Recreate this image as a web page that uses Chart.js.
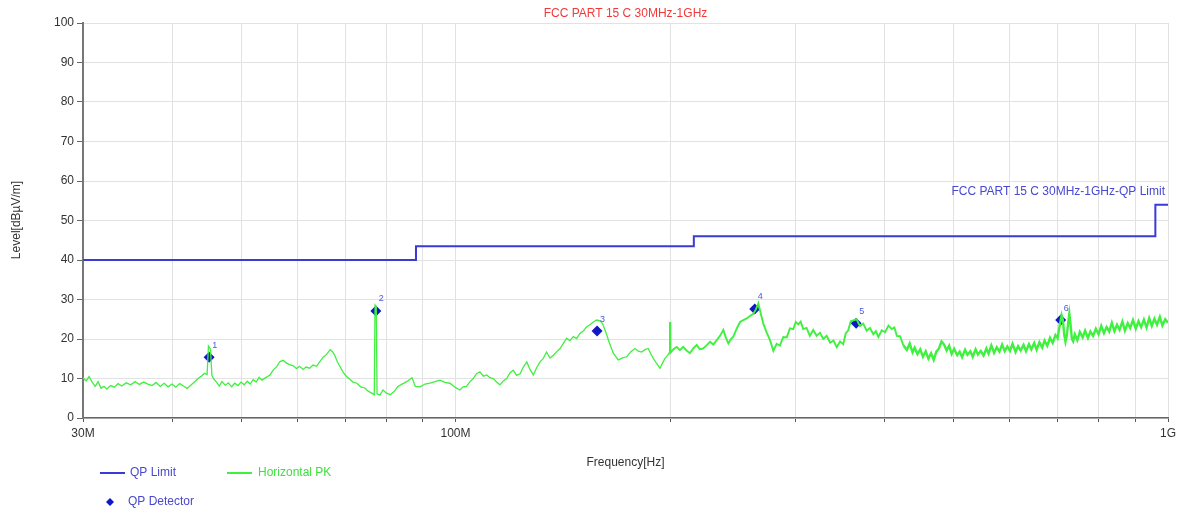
<!DOCTYPE html>
<html>
<head>
<meta charset="utf-8">
<script src="https://cdn.jsdelivr.net/npm/chart.js@4.4.1/dist/chart.umd.min.js"></script>
<style>
  body { margin: 0; background: #fff; }
  #wrap { width: 1182px; height: 511px; }
</style>
</head>
<body>
<div id="wrap"><canvas id="emi" width="1182" height="511"></canvas></div>
<script>
// --- limit line (MHz / dBuV/m) ---
const limitFreq = [30, 88, 88, 216, 216, 960, 960, 1000];
const limitLevel = [40, 40, 43.5, 43.5, 46, 46, 54, 54];

// --- QP detector readings ---
const qpFreq = [45.1, 77.3, 158.0, 263.0, 365.0, 707.0];
const qpLevel = [15.4, 27.1, 22.0, 27.6, 24.0, 24.8];
const qpNames = ['1', '2', '3', '4', '5', '6'];

// --- horizontal peak sweep ---
const pkFreq = [
  30.0, 30.3, 30.6, 30.9, 31.2, 31.5, 31.8, 32.1, 32.4, 32.8, 33.2, 33.6, 34.0, 34.5, 35.0, 35.5,
  36.0, 36.5, 37.0, 37.5, 38.0, 38.5, 39.0, 39.5, 40.0, 40.5, 41.0, 41.5, 42.0, 42.5, 43.0, 43.5,
  44.0, 44.4, 44.8, 45.0, 45.3, 45.5, 45.8, 46.2, 46.6, 47.0, 47.5, 48.0, 48.5, 49.0, 49.5, 50.0,
  50.5, 51.0, 51.5, 52.0, 52.5, 53.0, 53.5, 54.0, 54.9, 55.5, 56.1, 56.7, 57.3, 57.9, 58.5, 59.2,
  59.8, 60.4, 61.1, 61.7, 62.4, 63.1, 63.8, 64.5, 65.2, 65.9, 66.7, 67.2, 67.7, 68.3, 68.9, 69.6,
  70.3, 71.0, 71.8, 72.7, 73.6, 74.6, 75.4, 76.3, 76.9, 77.1, 77.4, 77.6, 78.3, 79.1, 80.0, 81.0,
  82.0, 83.0, 84.0, 85.4, 86.9, 87.8, 89.2, 90.6, 92.1, 93.6, 95.1, 96.6, 98.2, 99.8, 101.4, 102.5,
  103.6, 104.8, 105.9, 107.0, 108.2, 109.4, 110.6, 111.8, 113.0, 114.2, 115.4, 116.7, 118.0, 119.2, 120.5, 121.8,
  123.2, 124.5, 125.9, 127.2, 128.6, 130.0, 131.4, 132.8, 134.2, 135.7, 137.2, 138.7, 140.2, 141.7, 143.2, 144.7,
  146.3, 147.9, 149.5, 151.1, 152.8, 154.4, 156.1, 157.8, 159.5, 160.8, 162.1, 164.3, 166.5, 169.2, 171.5, 173.9,
  176.2, 178.6, 180.5, 182.5, 184.4, 186.4, 188.0, 189.5, 191.5, 193.6, 195.2, 196.8, 198.4, 199.8, 200.0, 200.2,
  202.2, 204.4, 206.5, 208.7, 211.0, 213.3, 215.6, 218.0, 220.3, 222.7, 225.1, 227.6, 230.1, 232.6, 235.1, 237.6,
  239.5, 241.5, 243.4, 245.4, 248.1, 250.8, 253.5, 256.3, 259.0, 261.8, 264.0, 266.1, 268.2, 270.4, 273.3, 276.3,
  279.3, 282.3, 285.3, 288.4, 291.6, 294.7, 297.9, 300.3, 302.7, 305.1, 307.6, 310.9, 314.3, 317.7, 321.2, 324.7,
  328.2, 331.8, 335.5, 339.2, 342.9, 346.5, 350.1, 352.9, 355.8, 358.7, 361.6, 365.5, 369.5, 373.5, 377.6, 381.7,
  385.9, 389.0, 392.2, 396.5, 400.8, 405.2, 409.6, 413.0, 416.3, 420.7, 425.2,
  430, 434, 438, 441, 445, 449, 453, 457, 461, 465,
  469, 473, 477, 481, 485, 489, 493, 497, 501, 506,
  510, 514, 519, 523, 528, 532, 537, 541, 546, 551,
  556, 560, 565, 570, 575, 580, 585, 590, 595, 600,
  605, 611, 616, 621, 627, 632, 638, 643, 649, 654,
  660, 666, 671, 677, 683, 689, 695, 700, 703, 706,
  709, 712, 715, 718, 721, 724, 727, 730, 733, 736,
  740, 746, 752, 759, 765, 772, 778, 785, 792, 799,
  806, 813, 820, 827, 834, 841, 848, 855, 863, 870,
  878, 885, 893, 901, 909, 917, 925, 933, 941, 949,
  957, 965, 974, 982, 991, 1000
];
const pkLevel = [
  10.2, 9.4, 10.5, 9.1, 8.0, 9.2, 7.5, 8.0, 7.3, 8.2, 7.8, 8.7, 8.1, 8.9, 8.4, 9.2,
  8.5, 9.1, 8.6, 8.2, 9.0, 8.0, 8.8, 7.9, 8.6, 7.8, 8.7, 8.1, 7.5, 8.3, 9.1, 10.0,
  10.6, 11.3, 11.0, 18.2, 17.4, 10.8, 9.8, 9.1, 8.1, 9.2, 8.3, 8.9, 7.9, 8.8, 8.2, 9.1,
  8.4, 9.3, 8.6, 9.7, 9.1, 10.3, 9.6, 10.1, 10.9, 12.2, 13.0, 14.3, 14.6, 13.9, 13.5, 13.2,
  12.5, 13.1, 12.3, 12.9, 12.6, 13.4, 13.1, 14.3, 15.4, 16.1, 17.3, 16.8, 15.8, 14.1, 12.9, 11.5,
  10.5, 9.9, 9.1, 8.8, 7.9, 7.6, 6.8, 6.3, 5.9, 28.6, 28.2, 6.1, 5.8, 7.1, 6.3, 5.9,
  6.7, 8.0, 8.5, 9.2, 10.2, 8.0, 7.9, 8.6, 8.8, 9.2, 9.6, 9.0, 8.8, 7.8, 7.1, 7.9,
  8.0, 9.2, 10.0, 11.2, 11.7, 10.6, 10.9, 10.2, 10.0, 9.1, 8.4, 9.4, 10.0, 11.4, 12.1, 10.8,
  11.2, 12.9, 14.2, 12.3, 10.9, 12.8, 14.2, 15.1, 16.7, 15.2, 15.9, 16.8, 17.6, 18.9, 20.2, 19.6,
  20.6, 20.1, 21.4, 22.0, 23.1, 23.6, 24.3, 24.8, 24.6, 23.9, 22.3, 19.2, 16.4, 14.7, 15.2, 15.5,
  16.8, 17.6, 16.9, 16.7, 17.3, 17.6, 16.2, 15.1, 13.8, 12.6, 13.9, 15.1, 15.8, 16.7, 24.3, 16.5,
  17.4, 18.0, 17.2, 18.0, 17.1, 16.4, 17.6, 18.5, 17.4, 17.6, 18.4, 19.3, 18.6, 19.7, 20.8, 22.3,
  20.4, 18.9, 19.9, 20.6, 22.6, 24.3, 24.8, 25.2, 25.8, 26.4, 27.5, 29.0, 26.4, 23.9, 21.7, 19.7,
  17.0, 18.8, 18.3, 20.5, 20.4, 22.7, 22.5, 24.3, 23.7, 24.4, 22.5, 22.8, 20.8, 22.3, 20.8, 21.6,
  20.0, 20.8, 19.1, 19.6, 17.9, 19.4, 18.7, 21.4, 22.2, 24.5, 24.7, 25.0, 23.3, 23.9, 22.1, 22.8,
  21.2, 22.0, 20.5, 22.2, 21.7, 23.4, 22.5, 22.9, 20.8, 20.7, 18.4,
  17.2, 18.9, 16.6, 17.8, 16.2, 17.4, 15.5, 16.9, 15.0, 16.4,
  14.7, 16.8, 17.6, 19.4, 18.6, 17.1, 18.3, 16.2, 17.5, 15.9,
  16.8, 15.4, 17.3, 16.0, 16.9, 15.5, 17.4, 16.1, 17.0, 15.8,
  17.6, 16.3, 18.4, 16.5, 17.9, 16.8, 18.6, 16.9, 18.1, 17.0,
  18.8, 16.7, 18.2, 17.1, 18.5, 16.9, 18.7, 17.4, 19.0, 17.3,
  19.2, 17.8, 19.6, 18.3, 20.3, 19.0, 21.0, 20.2, 22.4, 24.2,
  26.0, 24.8, 21.2, 19.3, 20.8, 23.8, 26.4, 23.5, 20.0, 19.4,
  21.2, 19.7, 21.8, 20.4, 22.1, 20.3, 21.9, 20.8, 22.6, 21.2,
  23.3, 21.5, 23.0, 21.9, 24.1, 22.0, 23.6, 22.3, 24.4, 22.1,
  24.0, 22.8, 24.8, 22.6, 24.5, 23.0, 24.9, 22.9, 25.3, 23.3,
  25.1, 23.6, 25.6, 23.4, 25.0, 24.1
];

// --- axis ticks ---
const xTicks = [30, 40, 50, 60, 70, 80, 90, 100, 200, 300, 400, 500, 600, 700, 800, 900, 1000];
const xTickLabels = { 30: '30M', 100: '100M', 1000: '1G' };

const toXY = (xs, ys) => xs.map((x, i) => ({ x: x, y: ys[i] }));

const BLUE = '#3a3ad6';
const GREEN = '#3ff03f';
const FONT = '"Liberation Sans", Arial, sans-serif';

const textPlugin = {
  id: 'texts',
  afterDraw(chart) {
    const c = chart.ctx;
    const area = chart.chartArea;
    const mid = (area.left + area.right) / 2;
    c.save();
    c.font = '12px ' + FONT;
    c.textBaseline = 'middle';

    // title
    c.textAlign = 'center';
    c.fillStyle = '#f03a3a';
    c.fillText('FCC PART 15 C 30MHz-1GHz', mid, 14);

    // axis titles
    c.fillStyle = '#333';
    c.fillText('Frequency[Hz]', mid, 463);
    c.save();
    c.translate(17, 220);
    c.rotate(-Math.PI / 2);
    c.fillText('Level[dBµV/m]', 0, 0);
    c.restore();

    // limit name
    c.textAlign = 'right';
    c.fillStyle = '#4848d0';
    c.fillText('FCC PART 15 C 30MHz-1GHz-QP Limit', 1165, 192);

    // legend
    c.textAlign = 'left';
    c.lineWidth = 2;
    c.strokeStyle = BLUE;
    c.beginPath(); c.moveTo(100, 473); c.lineTo(125, 473); c.stroke();
    c.fillStyle = '#4848d0';
    c.fillText('QP Limit', 130, 473);
    c.strokeStyle = GREEN;
    c.beginPath(); c.moveTo(227, 473); c.lineTo(252, 473); c.stroke();
    c.fillStyle = '#3fe03f';
    c.fillText('Horizontal PK', 258, 473);
    c.fillStyle = '#1018c8';
    c.beginPath();
    c.moveTo(110, 498); c.lineTo(114, 502); c.lineTo(110, 506); c.lineTo(106, 502);
    c.closePath(); c.fill();
    c.fillStyle = '#4848d0';
    c.fillText('QP Detector', 128, 502);

    // marker numbers
    const meta = chart.getDatasetMeta(2);
    c.font = '9px ' + FONT;
    c.fillStyle = '#4a5ae0';
    meta.data.forEach((pt, i) => {
      c.fillText(qpNames[i], pt.x + 3, pt.y - 12);
    });
    c.restore();
  }
};

new Chart(document.getElementById('emi'), {
  type: 'line',
  data: {
    datasets: [
      {
        label: 'QP Limit',
        data: toXY(limitFreq, limitLevel),
        borderColor: BLUE,
        borderWidth: 2,
        pointRadius: 0,
        fill: false,
        tension: 0,
      },
      {
        label: 'Horizontal PK',
        data: toXY(pkFreq, pkLevel),
        borderColor: GREEN,
        borderWidth: 1.3,
        pointRadius: 0,
        fill: false,
        tension: 0,
        segment: {
          // sweep gets noisier (thicker band) above ~200 MHz
          borderWidth: ctx => {
            const f = ctx.p0.parsed.x;
            if (f >= 425) return 2.4;
            if (f >= 200) return 1.9;
            return 1.3;
          },
        },
      },
      {
        label: 'QP Detector',
        data: toXY(qpFreq, qpLevel),
        showLine: false,
        pointStyle: 'rectRot',
        pointRadius: 5.5,
        pointBackgroundColor: '#1018c8',
        pointBorderColor: '#1018c8',
        pointBorderWidth: 0,
      },
    ],
  },
  options: {
    responsive: false,
    animation: false,
    layout: { padding: { left: 33, right: 14, top: 23, bottom: 0 } },
    plugins: {
      legend: { display: false },
      title: { display: false },
      tooltip: { enabled: false },
    },
    scales: {
      x: {
        type: 'logarithmic',
        min: 30,
        max: 1000,
        afterBuildTicks: scale => {
          scale.ticks = xTicks.map(v => ({ value: v }));
        },
        afterFit: scale => { scale.height = 93; },
        ticks: {
          autoSkip: false,
          maxRotation: 0,
          padding: 4,
          color: '#333',
          font: { family: FONT, size: 12 },
          callback: v => xTickLabels[v] || '',
        },
        grid: { color: '#e2e2e2', lineWidth: 1, tickLength: 4, tickColor: '#555' },
        border: { color: '#666', width: 1.5 },
      },
      y: {
        min: 0,
        max: 100,
        afterFit: scale => { scale.width = 50; },
        ticks: {
          stepSize: 10,
          padding: 3,
          color: '#333',
          font: { family: FONT, size: 12 },
        },
        grid: { color: '#e2e2e2', lineWidth: 1, tickLength: 6, tickColor: '#666' },
        border: { color: '#777', width: 2 },
      },
    },
  },
  plugins: [textPlugin],
});
</script>
</body>
</html>
